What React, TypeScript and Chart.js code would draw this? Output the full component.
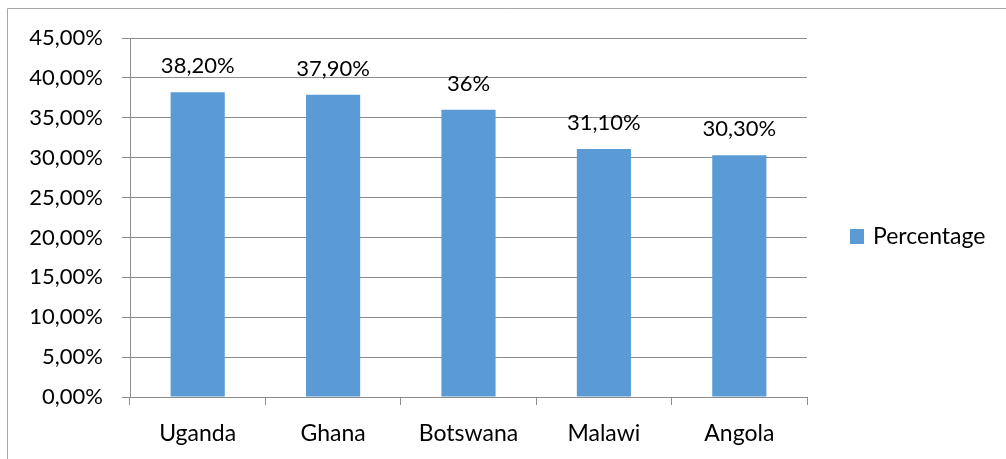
import React, { useEffect, useRef } from "react";
import { Chart, registerables } from "chart.js";

Chart.register(...registerables);

const categories = ["Uganda", "Ghana", "Botswana", "Malawi", "Angola"];
const percentages = [38.2, 37.9, 36, 31.1, 30.3];
const valueLabels = ["38,20%", "37,90%", "36%", "31,10%", "30,30%"];
const seriesName = "Percentage";
const yMax = 45;
const yStep = 5;

const FONT = "Lato, 'Liberation Sans', sans-serif";
const BAR = "#5B9BD5";
const GRID = "#8c8c8c";

const framePlugin = {
  id: "frame",
  beforeDraw(chart: any) {
    const ctx = chart.ctx;
    ctx.save();
    ctx.fillStyle = "#ffffff";
    ctx.fillRect(0, 0, chart.width, chart.height);
    ctx.strokeStyle = "#a6a6a6";
    ctx.lineWidth = 1;
    ctx.beginPath();
    ctx.moveTo(7.5, chart.height);
    ctx.lineTo(7.5, 8.5);
    ctx.lineTo(chart.width, 8.5);
    ctx.stroke();
    ctx.restore();
  },
};

const labelPlugin = {
  id: "valueLabels",
  afterDatasetsDraw(chart: any) {
    const ctx = chart.ctx;
    const meta = chart.getDatasetMeta(0);
    ctx.save();
    ctx.font = `22px ${FONT}`;
    ctx.fillStyle = "#000";
    ctx.textAlign = "center";
    ctx.textBaseline = "alphabetic";
    meta.data.forEach((bar: any, i: number) => {
      ctx.fillText(valueLabels[i], bar.x, bar.y - 19);
    });
    // legend
    ctx.fillStyle = BAR;
    ctx.fillRect(850, 229, 14, 15);
    ctx.fillStyle = "#000";
    ctx.font = `23px ${FONT}`;
    ctx.textAlign = "left";
    ctx.textBaseline = "alphabetic";
    ctx.fillText(seriesName, 873, 244);
    ctx.restore();
  },
};

export default function App() {
  const ref = useRef<HTMLCanvasElement>(null);
  useEffect(() => {
    document.body.style.margin = "0";
    const chart = new Chart(ref.current!, {
      type: "bar",
      data: {
        labels: categories,
        datasets: [
          {
            label: seriesName,
            data: percentages,
            backgroundColor: BAR,
            barPercentage: 0.8,
            categoryPercentage: 0.5,
          },
        ],
      },
      options: {
        animation: false,
        responsive: false,
        layout: { padding: { left: 0, right: 199, top: 38, bottom: 0 } },
        plugins: { legend: { display: false }, tooltip: { enabled: false } },
        scales: {
          x: {
            offset: true,
            grid: {
              offset: true,
              drawOnChartArea: false,
              drawTicks: true,
              tickLength: 8,
              color: GRID,
            },
            border: { color: GRID },
            ticks: { color: "#000", font: { family: FONT, size: 23 }, padding: 15 },
            afterFit(scale: any) {
              scale.height = 62;
            },
          },
          y: {
            min: 0,
            max: yMax,
            ticks: {
              stepSize: yStep,
              color: "#000",
              font: { family: FONT, size: 22 },
              padding: 19,
              callback: (v: any) => Number(v).toFixed(2).replace(".", ",") + "%",
            },
            grid: { color: GRID, tickLength: 8 },
            border: { color: GRID },
            afterFit(scale: any) {
              scale.width = 130;
            },
          },
        },
      },
      plugins: [framePlugin, labelPlugin],
    });
    return () => chart.destroy();
  }, []);
  return (
    <div style={{ width: 1006, height: 459 }}>
      <canvas ref={ref} width={1006} height={459} style={{ display: "block" }} />
    </div>
  );
}
